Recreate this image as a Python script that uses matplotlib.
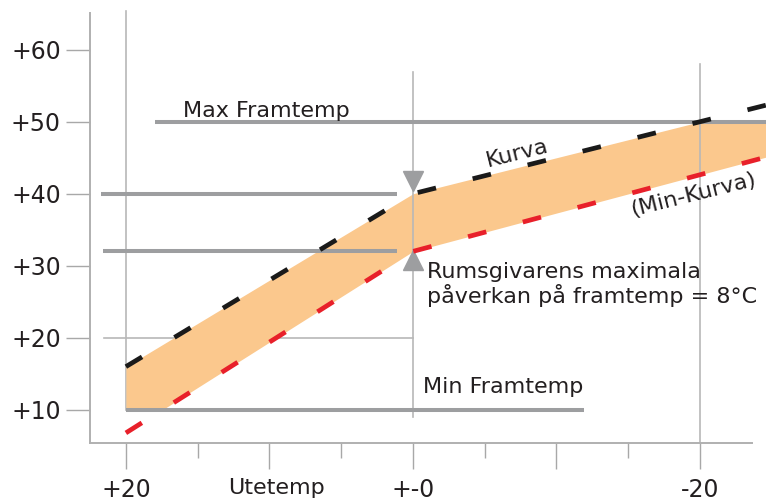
import matplotlib
matplotlib.use("Agg")
import matplotlib.pyplot as plt
import numpy as np

# curve break points (outdoor temp -> flow temp)
ute = [20, 0, -25]
kurva = [16, 40, 52.5]
min_kurva = [6.8, 32, 45.3]
max_framtemp = 50
min_framtemp = 10
rums_ref = [40, 32]  # curve minus 8 degC at +-0

yticks = [10, 20, 30, 40, 50, 60]
ylabels = ["+10", "+20", "+30", "+40", "+50", "+60"]
xticks = [20, 10, 0, -10, -20]
xlabels = ["+20", "", "+-0", "", "-20"]
xminor = [15, 5, -5, -15]

txt = "#231f20"
gray = "#9d9ea0"
grid = "#b8b8b8"
orange = "#fbc88d"

fig = plt.figure(figsize=(7.66, 5.01), dpi=100)
ax = fig.add_axes([90 / 766, 58 / 501, 676 / 766, 443 / 501])
ax.set_xlim(22.5, -24.6)
ax.set_ylim(5.4, 66.9)

# band between the curves, cut by min/max flow temp
xs = np.linspace(ute[0], ute[-1], 500)
top = np.minimum(np.interp(xs, ute[::-1], kurva[::-1]), max_framtemp)
bot = np.maximum(np.interp(xs, ute[::-1], min_kurva[::-1]), min_framtemp)
ax.fill_between(xs, bot, top, color=orange, lw=0, zorder=1)

# thin guide lines
ax.plot([20, 20], [10, 65.4], color=grid, lw=1.2, zorder=0.5)
ax.plot([0, 0], [9, 56.9], color=grid, lw=1.2, zorder=2)
ax.plot([-20, -20], [5.4, 58], color=grid, lw=1.2, zorder=2)
ax.plot([21.5, 0], [20, 20], color=grid, lw=1.2, zorder=0.5)

# thick gray limit lines
ax.plot([18, -24.6], [max_framtemp] * 2, color=gray, lw=2.9, solid_capstyle="butt", zorder=3)
ax.plot([20, -11.9], [min_framtemp] * 2, color=gray, lw=2.9, solid_capstyle="butt", zorder=3)
ax.plot([21.7, 1.1], [rums_ref[0]] * 2, color=gray, lw=2.9, solid_capstyle="butt", zorder=3)
ax.plot([21.6, 1.1], [rums_ref[1]] * 2, color=gray, lw=2.9, solid_capstyle="butt", zorder=3)

# triangles marking the 8 degC span
ax.plot([0], [41.8], marker="v", ms=14, color=gray, lw=0, zorder=4)
ax.plot([0], [30.8], marker="^", ms=14, color=gray, lw=0, zorder=4)

# dashed curves
ax.plot(ute, kurva, color="#1a1a1a", lw=3.4, dashes=(4, 8), dash_capstyle="butt", zorder=5)
ax.plot(ute, min_kurva, color="#e8202a", lw=3.4, dashes=(4, 8), dash_capstyle="butt", zorder=5)

# texts
fs = 16
ax.text(16.0, 50.7, "Max Framtemp", fontsize=fs, color=txt, va="baseline", ha="left")
ax.text(-0.7, 12.4, "Min Framtemp", fontsize=fs, color=txt, va="baseline", ha="left")
ax.text(-7.25, 45.6, "Kurva", fontsize=fs, color=txt, ha="center", va="center", rotation=14)
ax.text(-19.5, 39.9, "(Min-Kurva)", fontsize=fs, color=txt, ha="center", va="center", rotation=14)
ax.text(-1.0, 28.3, "Rumsgivarens maximala", fontsize=fs, color=txt, va="baseline", ha="left")
ax.text(-1.0, 24.9, "påverkan på framtemp = 8°C", fontsize=fs, color=txt, va="baseline", ha="left")

# axes styling
for s in ["top", "right"]:
    ax.spines[s].set_visible(False)
ax.spines["left"].set_bounds(5.4, 65.1)
ax.spines["bottom"].set_bounds(22.5, -23.6)
for s in ["left", "bottom"]:
    ax.spines[s].set_color("#b0b0b0")
    ax.spines[s].set_linewidth(1.4)

ax.set_yticks(yticks)
ax.set_yticklabels(ylabels)
ax.set_xticks(xticks)
ax.set_xticklabels(xlabels)
ax.set_xticks(xminor, minor=True)
ax.tick_params(axis="y", length=17, width=1, color="#a8a8a8", pad=4, labelsize=17, labelcolor=txt)
ax.tick_params(axis="x", which="major", length=19, width=1, color="#a8a8a8", pad=6, labelsize=17, labelcolor=txt)
ax.tick_params(axis="x", which="minor", length=11, width=1, color="#a8a8a8")

ax.set_xlabel("Utetemp", fontsize=16, color=txt, va="top")
ax.xaxis.set_label_coords(0.276, -0.079)

fig.savefig("out.png", dpi=100)
